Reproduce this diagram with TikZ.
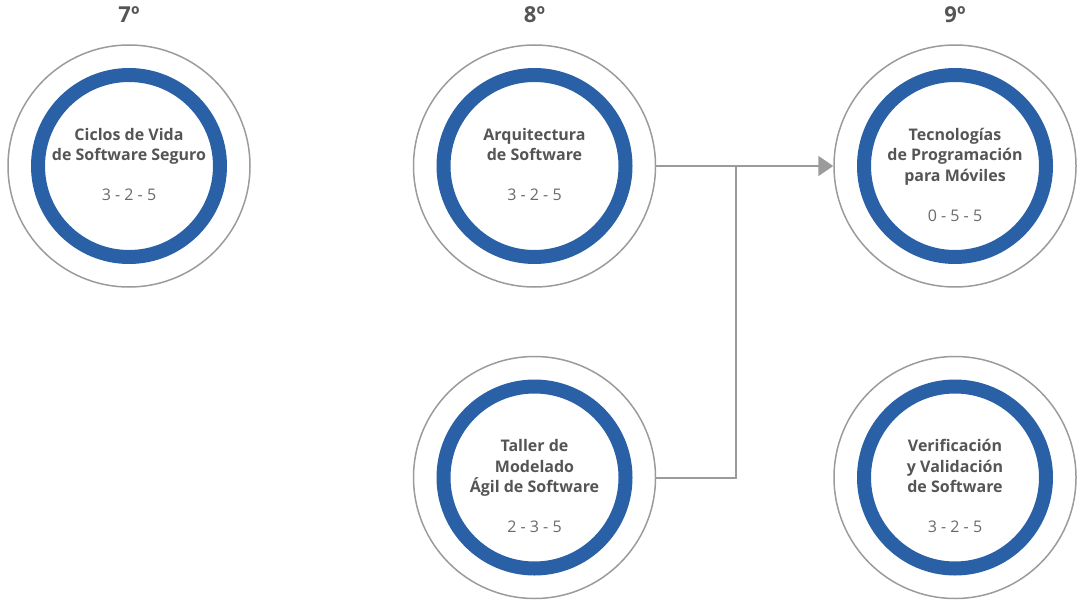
\documentclass[tikz,border=0pt]{standalone}
\usepackage{fontspec}
\setmainfont{Open Sans}
\usepackage{xcolor}
\usepackage{tikz}
\usetikzlibrary{arrows.meta,positioning}

\definecolor{ringblue}{HTML}{2960A6}
\definecolor{linegray}{HTML}{9B9B9B}
\definecolor{textgray}{HTML}{555555}
\definecolor{numgray}{HTML}{6A6A6A}

\begin{document}
\begin{tikzpicture}[
        x=1pt, y=1pt,
        % Styles
        outer/.style={
            circle,
            draw=linegray,
            line width=1.5pt,
            minimum size=242pt,
            inner sep=0pt
        },
        ring/.style={
            circle,
            draw=ringblue,
            line width=14pt,
            minimum size=182pt,
            inner sep=0pt
        },
        semester/.style={
            font=\fontsize{22}{26}\selectfont\bfseries,
            text=textgray,
            anchor=base,
            inner sep=0pt
        },
        title/.style={
            font=\fontsize{16}{20.5}\selectfont\bfseries,
            text=textgray,
            align=center,
            anchor=north,
            inner sep=0pt,
            text depth=4pt
        },
        credits/.style={
            font=\fontsize{16}{21}\selectfont,
            text=numgray,
            inner sep=0pt
        },
        link/.style={
            draw=linegray,
            line width=2pt
        },
        arrow/.style={
            link,
            -{Triangle[length=15pt,width=20pt]}
        }
    ]

    \useasboundingbox (0,0) rectangle (1081,-604);

    % Course circles
    \node[outer] (c7) at (129,-166) {};
    \node[outer, right=162pt of c7] (c8) {};
    \node[outer, right=177pt of c8] (c9) {};
    \node[outer, below=68pt of c8] (ct) {};
    \node[outer, below=68pt of c9] (cv) {};

    % Blue rings
    \node[ring] (r7) at (c7) {};
    \node[ring] (r8) at (c8) {};
    \node[ring] (r9) at (c9) {};
    \node[ring] (rt) at (ct) {};
    \node[ring] (rv) at (cv) {};

    % Semesters
    \node[semester] (s7) at ([yshift=143]c7.center) {7º};
    \node[semester] (s8) at ([yshift=143]c8.center) {8º};
    \node[semester] (s9) at ([yshift=143]c9.center) {9º};

    % Course names
    \node[title] (t7) at ([yshift=38]c7.center) {Ciclos de Vida\\de Software Seguro};
    \node[title] (t8) at ([yshift=38]c8.center) {Arquitectura\\de Software};
    \node[title] (t9) at ([yshift=38]c9.center) {Tecnologías\\de Programación\\para Móviles};
    \node[title] (tt) at ([yshift=38]ct.center) {Taller de\\Modelado\\Ágil de Software};
    \node[title] (tv) at ([yshift=38]cv.center) {Verificación\\y Validación\\de Software};

    % Credits
    \node[credits, below=23.6pt of t7] (n7) {3 - 2 - 5};
    \node[credits, below=23.6pt of t8] (n8) {3 - 2 - 5};
    \node[credits, below=23.6pt of t9] (n9) {0 - 5 - 5};
    \node[credits, below=23.6pt of tt] (nt) {2 - 3 - 5};
    \node[credits, below=23.6pt of tv] (nv) {3 - 2 - 5};

    % Prerequisite links
    \coordinate (join) at ([xshift=80pt]c8.east);
    \draw[arrow] (c8.east) -- (c9.west);
    \draw[link] (ct.east) -| (join);

\end{tikzpicture}
\end{document}
